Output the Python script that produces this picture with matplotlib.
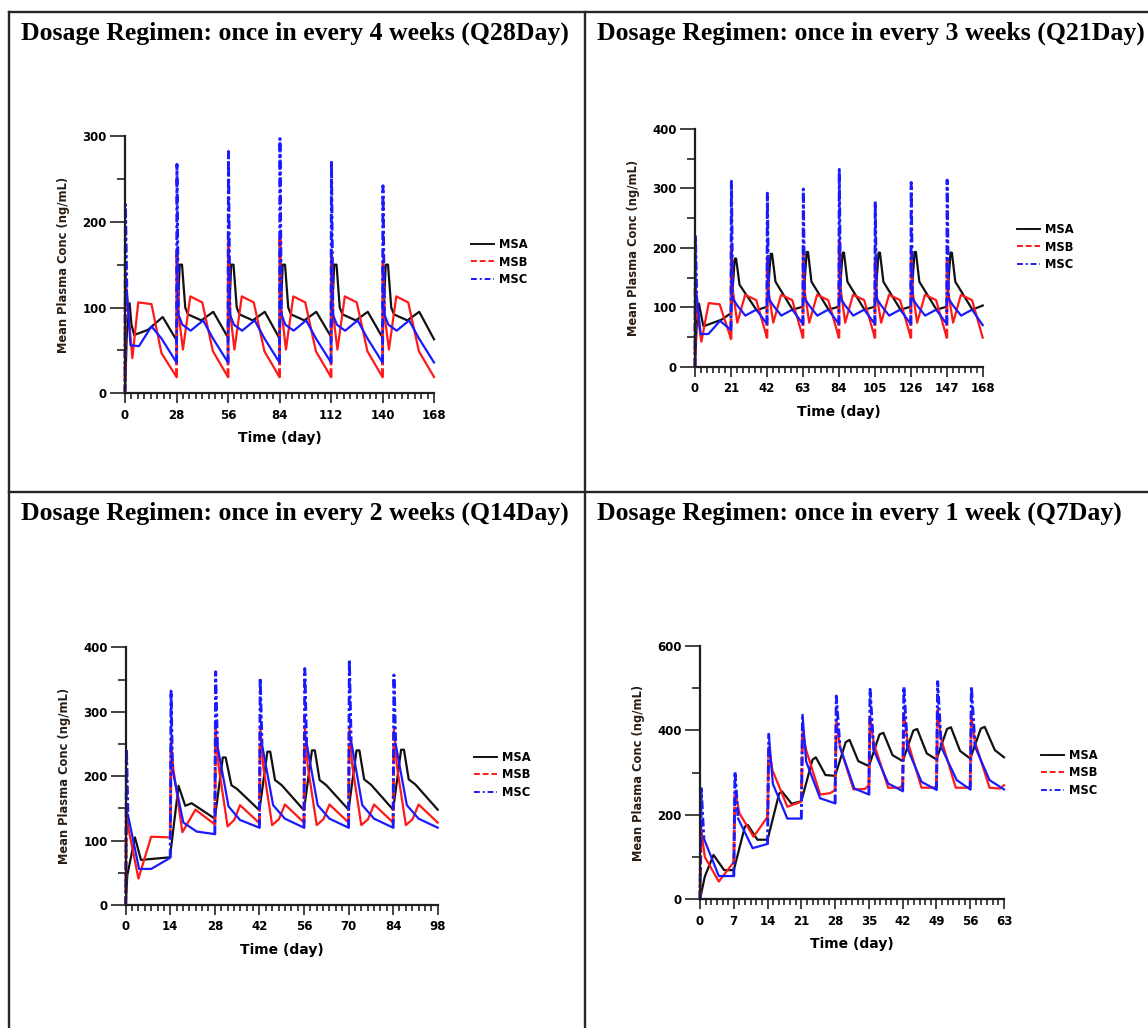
import matplotlib
matplotlib.use("Agg")
import matplotlib.pyplot as plt
from matplotlib.lines import Line2D
from matplotlib.ticker import MultipleLocator

# ---------------- data ----------------
series_names = ["MSA", "MSB", "MSC"]

# Panel 1: Q28Day
q28_t_msa = [0, 1, 2.5, 3.5, 5, 12.5, 20.5, 28,
             29.75, 31, 32.75, 34.25, 41.5, 48, 56,
             57.75, 59, 60.75, 62.25, 69.5, 76, 84,
             85.75, 87, 88.75, 90.25, 97.5, 104, 112,
             113.75, 115, 116.75, 118.25, 125.5, 132, 140,
             141.75, 143, 144.75, 146.25, 153.5, 160, 168]
q28_c_msa = [0, 70, 105, 80, 68, 74, 89, 62,
             150, 150, 100, 92, 85, 95, 65,
             150, 150, 100, 92, 85, 95, 64,
             150, 150, 100, 92, 85, 95, 66,
             150, 150, 100, 92, 85, 95, 65,
             150, 150, 100, 92, 85, 95, 63]
q28_t_msb = [0, 0.25, 1, 4, 7.2, 14.4, 19.8, 28,
             28.25, 29, 31.5, 35.5, 42, 47.8, 56,
             56.25, 57, 59.5, 63.5, 70, 75.8, 84,
             84.25, 85, 87.5, 91.5, 98, 103.8, 112,
             112.25, 113, 115.5, 119.5, 126, 131.8, 140,
             140.25, 141, 143.5, 147.5, 154, 159.8, 168]
q28_c_msb = [0, 141, 115, 41, 106, 104, 47, 19,
             165, 95, 51, 113, 106, 49, 19,
             178, 97, 51, 113, 106, 49, 19,
             182, 98, 51, 113, 106, 49, 19,
             165, 95, 51, 113, 106, 49, 19,
             151, 93, 51, 113, 106, 49, 19]
q28_t_msc = [0, 0.25, 1, 3, 7.6, 14.4, 19.8, 28,
             28.25, 29, 31.2, 35.7, 42.5, 47.8, 56,
             56.25, 57, 59.2, 63.7, 70.5, 75.8, 84,
             84.25, 85, 87.2, 91.7, 98.5, 103.8, 112,
             112.25, 113, 115.2, 119.7, 126.5, 131.8, 140,
             140.25, 141, 143.2, 147.7, 154.5, 159.8, 168]
q28_c_msc = [0, 220, 120, 56, 55, 78, 64, 36,
             267, 92, 80, 73, 85, 64, 36,
             282, 92, 80, 73, 85, 64, 36,
             297, 92, 80, 73, 85, 64, 36,
             271, 92, 80, 73, 85, 64, 36,
             242, 92, 80, 73, 85, 64, 36]

# Panel 2: Q21Day
q21_t_msa = [0, 1, 2.3, 4.9, 15.4, 21,
             23.2, 24, 26, 36, 42,
             44.2, 45, 47, 57, 63,
             65.2, 66, 68, 78, 84,
             86.2, 87, 89, 99, 105,
             107.2, 108, 110, 120, 126,
             128.2, 129, 131, 141, 147,
             149.2, 150, 152, 162, 168]
q21_c_msa = [0, 70, 106, 68, 79, 90,
             182, 182, 138, 95, 101,
             190, 190, 143, 96, 101,
             193, 193, 143, 96, 101,
             192, 192, 143, 96, 101,
             192, 192, 143, 96, 101,
             193, 193, 143, 96, 101,
             192, 192, 143, 96, 103]
q21_t_msb = [0, 0.25, 1, 3.7, 8, 14.4, 21,
             21.25, 22, 24.7, 29.3, 35.8, 42,
             42.25, 43, 45.7, 50.3, 56.8, 63,
             63.25, 64, 66.7, 71.3, 77.8, 84,
             84.25, 85, 87.7, 92.3, 98.8, 105,
             105.25, 106, 108.7, 113.3, 119.8, 126,
             126.25, 127, 129.7, 134.3, 140.8, 147,
             147.25, 148, 150.7, 155.3, 161.8, 168]
q21_c_msb = [0, 140, 100, 42, 107, 105, 47,
             205, 130, 74, 121, 112, 49,
             185, 125, 74, 121, 112, 49,
             190, 128, 74, 121, 112, 49,
             210, 132, 74, 121, 112, 49,
             180, 122, 74, 121, 112, 49,
             194, 128, 74, 121, 112, 49,
             182, 124, 74, 121, 112, 49]
q21_t_msc = [0, 0.25, 1, 3.3, 7.8, 14.6, 21,
             21.25, 22, 24.7, 29.4, 35.8, 42,
             42.25, 43, 45.7, 50.4, 56.8, 63,
             63.25, 64, 66.7, 71.4, 77.8, 84,
             84.25, 85, 87.7, 92.4, 98.8, 105,
             105.25, 106, 108.7, 113.4, 119.8, 126,
             126.25, 127, 129.7, 134.4, 140.8, 147,
             147.25, 148, 150.7, 155.4, 161.8, 168]
q21_c_msc = [0, 221, 120, 55, 55, 77, 62,
             312, 115, 103, 86, 96, 72,
             292, 115, 103, 86, 96, 72,
             299, 115, 103, 86, 96, 72,
             332, 115, 103, 86, 96, 72,
             278, 115, 103, 86, 96, 72,
             310, 115, 103, 86, 96, 72,
             314, 115, 103, 86, 96, 70]

# Panel 3: Q14Day
q14_t_msa = [0, 0.5, 2.9, 4.8, 13.9,
             16.6, 18.7, 20.7, 28,
             30.5, 31.4, 33.2, 35, 42,
             44.5, 45.4, 46.9, 49, 56,
             58.5, 59.4, 60.9, 63, 70,
             72.5, 73.4, 74.9, 77, 84,
             86.5, 87.4, 88.9, 91, 98]
q14_c_msa = [0, 46, 105, 70, 74,
             185, 154, 158, 134,
             229, 229, 186, 180, 147,
             238, 238, 194, 186, 147,
             240, 240, 194, 186, 148,
             240, 240, 195, 187, 148,
             241, 241, 195, 187, 148]
q14_t_msb = [0, 0.25, 0.8, 4, 8, 13.8, 14,
             14.25, 15, 17.8, 21.9, 28,
             28.25, 29.2, 32, 34.1, 35.9, 42,
             42.25, 43.2, 46, 48.1, 50, 56,
             56.25, 57.2, 60, 62.1, 64, 70,
             70.25, 71.2, 74, 76.1, 78, 84,
             84.25, 85.2, 88, 90.1, 92, 98]
q14_c_msb = [0, 152, 120, 41, 106, 105, 105,
             252, 210, 113, 148, 125,
             272, 215, 122, 132, 155, 127,
             277, 215, 124, 133, 156, 128,
             277, 215, 124, 133, 156, 128,
             274, 215, 124, 133, 156, 128,
             272, 215, 124, 133, 156, 128]
q14_t_msc = [0, 0.25, 0.7, 4.2, 8, 13.9, 14,
             14.25, 14.7, 18.1, 22.3, 28,
             28.25, 28.8, 32.3, 35.9, 42,
             42.25, 42.8, 46.3, 50, 56,
             56.25, 56.8, 60.3, 64, 70,
             70.25, 70.8, 74.3, 78, 84,
             84.25, 84.8, 88.3, 92, 98]
q14_c_msc = [0, 242, 140, 56, 56, 73, 74,
             332, 210, 128, 114, 110,
             362, 248, 153, 132, 120,
             352, 250, 155, 134, 120,
             367, 252, 155, 134, 120,
             381, 255, 155, 134, 120,
             357, 250, 155, 134, 120]

# Panel 4: Q7Day
q7_t_msa = [0, 1, 2.8, 5, 7,
            9.3, 9.9, 11.9, 14,
            16.4, 17.0, 19, 21,
            23.3, 24.0, 26, 28,
            30.2, 31.0, 32.8, 35,
            37.2, 38.0, 39.9, 42,
            44.2, 45.0, 47, 49,
            51.2, 52.0, 53.9, 56,
            58.2, 59.0, 61.1, 63]
q7_c_msa = [0, 54, 105, 69, 69,
            172, 176, 141, 141,
            250, 255, 226, 232,
            330, 336, 294, 292,
            372, 377, 327, 315,
            390, 394, 341, 327,
            399, 403, 345, 331,
            403, 407, 351, 333,
            404, 408, 353, 336]
q7_t_msb = [0, 0.25, 1, 3.9, 7,
            7.25, 8.2, 11.1, 14,
            14.25, 15, 18.1, 20.8, 21,
            21.25, 22, 24.9, 26.9, 28,
            28.25, 29, 31.8, 34.2, 35,
            35.25, 36, 39, 41.4, 42,
            42.25, 43, 45.9, 48.5, 49,
            49.25, 50, 53, 55.6, 56,
            56.25, 57, 60, 62.2, 63]
q7_c_msb = [0, 164, 100, 42, 88,
            255, 203, 148, 195,
            360, 306, 219, 230, 235,
            400, 353, 248, 251, 258,
            424, 361, 260, 261, 270,
            432, 370, 264, 264, 270,
            440, 375, 264, 264, 268,
            448, 378, 264, 264, 268,
            432, 372, 264, 262, 270]
q7_t_msc = [0, 0.25, 0.8, 3.9, 7,
            7.25, 7.9, 10.9, 14,
            14.25, 15.1, 18.1, 21,
            21.25, 22, 24.9, 28,
            28.25, 29, 32, 35,
            35.25, 36, 39, 42,
            42.25, 43, 45.9, 49,
            49.25, 50, 53.2, 56,
            56.25, 57, 60, 63]
q7_c_msc = [0, 262, 144, 55, 55,
            302, 191, 121, 131,
            391, 273, 191, 191,
            436, 326, 239, 227,
            481, 360, 262, 248,
            497, 353, 274, 256,
            503, 357, 278, 259,
            515, 360, 282, 260,
            503, 361, 282, 260]

titles = ["Dosage Regimen: once in every 4 weeks (Q28Day)",
          "Dosage Regimen: once in every 3 weeks (Q21Day)",
          "Dosage Regimen: once in every 2 weeks (Q14Day)",
          "Dosage Regimen: once in every 1 week (Q7Day)"]
x_label = "Time (day)"
y_label = "Mean Plasma Conc (ng/mL)"

# ---------------- figure ----------------
W, H = 1148, 1028
fig = plt.figure(figsize=(W / 100, H / 100), dpi=100)

colors = {"MSA": "#111111", "MSB": "#ff1a1a", "MSC": "#1a1aff"}
spike_dash = {"MSA": None, "MSB": (3, 1.0), "MSC": (3, 1.0, 1, 1.0)}
leg_ls = {"MSA": "-", "MSB": (0, (3, 1.5)), "MSC": (0, (3, 1.5, 1, 1.5))}


def px_rect(l, r, top, bot):
    return [l / W, 1 - bot / H, (r - l) / W, (bot - top) / H]


panels = [
    dict(rect=px_rect(125, 434, 136, 393.3), xmax=168, xmaj=28, xmin=3.5,
         ymax=300, ymaj=100, ymin=50,
         data=[(q28_t_msa, q28_c_msa), (q28_t_msb, q28_c_msb), (q28_t_msc, q28_c_msc)],
         leg=(471, 262), title=titles[0], tpos=(21, 33)),
    dict(rect=px_rect(695, 982.7, 129, 366.7), xmax=168, xmaj=21, xmin=3.5,
         ymax=400, ymaj=100, ymin=50,
         data=[(q21_t_msa, q21_c_msa), (q21_t_msb, q21_c_msb), (q21_t_msc, q21_c_msc)],
         leg=(1017, 247), title=titles[1], tpos=(597, 33)),
    dict(rect=px_rect(125.7, 437.7, 647.3, 905), xmax=98, xmaj=14, xmin=2,
         ymax=400, ymaj=100, ymin=50,
         data=[(q14_t_msa, q14_c_msa), (q14_t_msb, q14_c_msb), (q14_t_msc, q14_c_msc)],
         leg=(474, 775), title=titles[2], tpos=(21, 513)),
    dict(rect=px_rect(700, 1004, 645.7, 899.3), xmax=63, xmaj=7, xmin=7 / 6,
         ymax=600, ymaj=200, ymin=100,
         data=[(q7_t_msa, q7_c_msa), (q7_t_msb, q7_c_msb), (q7_t_msc, q7_c_msc)],
         leg=(1041, 773), title=titles[3], tpos=(597, 513)),
]


def draw_series(ax, t, c, name, ymax):
    thr = ymax * 0.25
    n = len(t)
    steep = []
    for i in range(n - 1):
        dt = t[i + 1] - t[i]
        s = abs((c[i + 1] - c[i]) / dt) if dt > 0 else 1e9
        steep.append(s > thr and spike_dash[name] is not None)
    i = 0
    while i < n - 1:
        j = i
        while j + 1 < n - 1 and steep[j + 1] == steep[i]:
            j += 1
        xs, ys = t[i:j + 2], c[i:j + 2]
        if steep[i]:
            ax.plot(xs, ys, color=colors[name], lw=2.1, dashes=spike_dash[name],
                    solid_joinstyle="miter", clip_on=False)
        else:
            ax.plot(xs, ys, color=colors[name], lw=1.6, clip_on=False)
        i = j + 1


for p in panels:
    ax = fig.add_axes(p["rect"])
    for name, (t, c) in zip(series_names, p["data"]):
        draw_series(ax, t, c, name, p["ymax"])
    ax.set_xlim(0, p["xmax"])
    ax.set_ylim(0, p["ymax"])
    ax.xaxis.set_major_locator(MultipleLocator(p["xmaj"]))
    ax.xaxis.set_minor_locator(MultipleLocator(p["xmin"]))
    ax.yaxis.set_major_locator(MultipleLocator(p["ymaj"]))
    ax.yaxis.set_minor_locator(MultipleLocator(p["ymin"]))
    for sp in ("top", "right"):
        ax.spines[sp].set_visible(False)
    for sp in ("left", "bottom"):
        ax.spines[sp].set_linewidth(1.6)
        ax.spines[sp].set_color("#1e1e1e")
    ax.tick_params(axis="y", which="major", length=11, width=1.2, color="#222222", pad=2)
    ax.tick_params(axis="y", which="minor", length=5.5, width=1.2, color="#222222")
    ax.tick_params(axis="x", which="major", length=7, width=1.2, color="#222222", pad=4)
    ax.tick_params(axis="x", which="minor", length=4.5, width=1.2, color="#222222")
    for lab in ax.get_xticklabels() + ax.get_yticklabels():
        lab.set_fontfamily("DejaVu Sans")
        lab.set_fontweight("bold")
        lab.set_fontsize(8.5)
    ax.set_xlabel(x_label, fontsize=10, fontweight="bold", family="DejaVu Sans", labelpad=7)
    ax.set_ylabel(y_label, fontsize=8.3, fontweight="bold", family="DejaVu Sans", labelpad=9,
                  color="#2a1d14")
    ax.patch.set_alpha(0)

    handles = [Line2D([], [], color=colors[n], lw=1.4, linestyle=leg_ls[n]) for n in series_names]
    lx, ly = p["leg"]
    fig.legend(handles, series_names, loc="center left",
               bbox_to_anchor=(lx / W, 1 - ly / H), bbox_transform=fig.transFigure,
               frameon=False, borderpad=0, borderaxespad=0, handlelength=2.0,
               handletextpad=0.45, labelspacing=0.38,
               prop=dict(family="DejaVu Sans", weight="bold", size=8.3))

    tx, ty = p["tpos"]
    fig.text(tx / W, 1 - ty / H, p["title"], ha="left", va="center",
             fontsize=18.5, fontweight="bold", family="Liberation Serif")

# panel borders
bc = "#262626"
blw = 1.7
fig.add_artist(Line2D([9 / W, 9 / W], [0, 1 - 12 / H], transform=fig.transFigure, color=bc, lw=blw))
fig.add_artist(Line2D([585 / W, 585 / W], [0, 1 - 12 / H], transform=fig.transFigure, color=bc, lw=blw))
fig.add_artist(Line2D([9 / W, 1], [1 - 12 / H, 1 - 12 / H], transform=fig.transFigure, color=bc, lw=blw))
fig.add_artist(Line2D([9 / W, 1], [1 - 492 / H, 1 - 492 / H], transform=fig.transFigure, color=bc, lw=blw))

fig.savefig("out.png", dpi=100, facecolor="white")
